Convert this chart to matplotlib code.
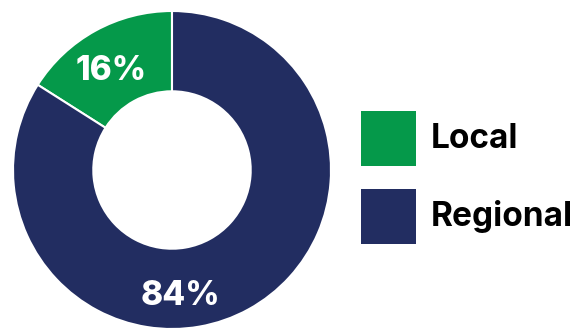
import matplotlib
matplotlib.use("Agg")
import matplotlib.pyplot as plt
from matplotlib.patches import Rectangle
import numpy as np

categories = ["Local", "Regional"]
values = [16, 84]
colors = ["#05994A", "#222D61"]
pct_labels = ["16%", "84%"]

W, H = 576, 329
fig = plt.figure(figsize=(W / 100, H / 100), dpi=100)

cx, cy, R = 172, 170, 159
ax = fig.add_axes([(cx - R) / W, 1 - (cy + R) / H, 2 * R / W, 2 * R / H])
wedges, _ = ax.pie(values, colors=colors, startangle=90, counterclock=True,
                   radius=1.0, wedgeprops=dict(width=0.505, edgecolor="white", linewidth=1.5))
ax.set_xlim(-1, 1)
ax.set_ylim(-1, 1)
ax.set_aspect("equal")
ax.axis("off")

font = "Inter"
# percentage labels
ax.text(-0.38, 0.625, pct_labels[0], ha="center", va="center", color="white",
        fontsize=24, fontweight="heavy", family=font)
ax.text(0.05, -0.79, pct_labels[1], ha="center", va="center", color="white",
        fontsize=24, fontweight="heavy", family=font)

# legend
sq = 55
ys = [111, 189]
for cat, col, y in zip(categories, colors, ys):
    fig.add_artist(Rectangle((361 / W, 1 - (y + sq) / H), sq / W, sq / H,
                             transform=fig.transFigure, facecolor=col, edgecolor="none"))
    fig.text(431 / W, 1 - (y + sq / 2) / H, cat, ha="left", va="center",
             fontsize=24, fontweight="bold", family=font, color="black")

fig.savefig("out.png", dpi=100)
